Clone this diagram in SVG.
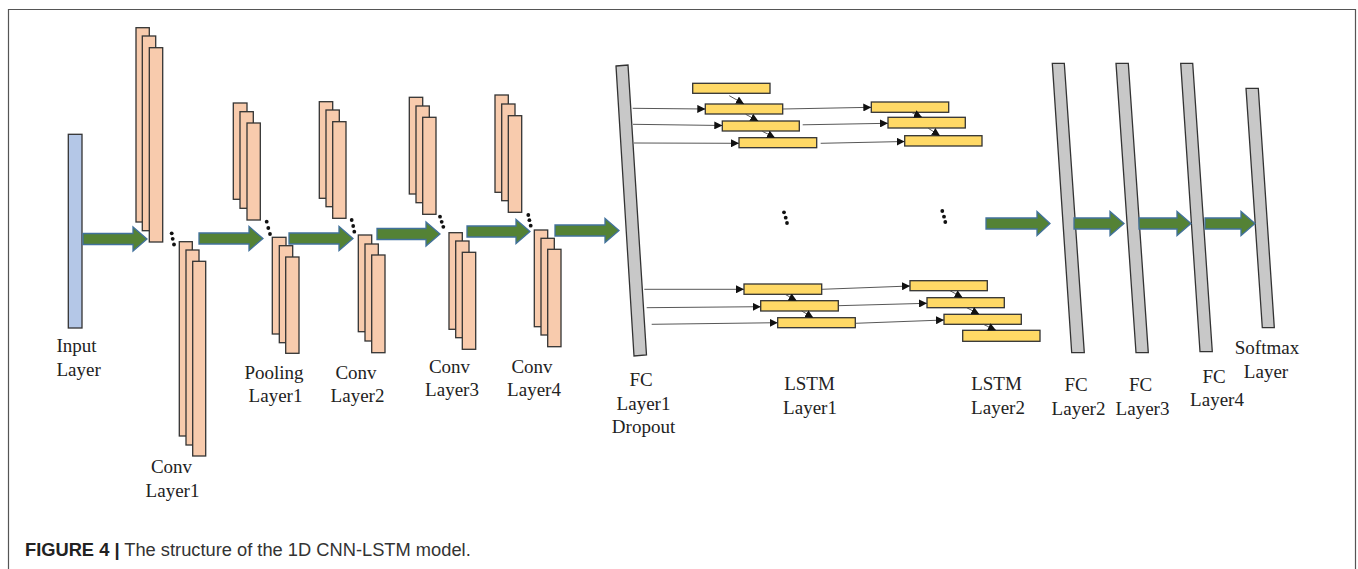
<svg xmlns="http://www.w3.org/2000/svg" width="1358" height="569" viewBox="0 0 1358 569">
<style>
.bg{fill:#ffffff}
.frame{fill:none;stroke:#555;stroke-width:1.2}
.inp{fill:#b4c7e7;stroke:#333;stroke-width:1.3}
.conv{fill:#f8cbad;stroke:#333;stroke-width:1.3}
.fc{fill:#c8c8c8;stroke:#333;stroke-width:1.3}
.lstm{fill:#ffd966;stroke:#333;stroke-width:1.3}
.big{fill:#548235;stroke:#41719c;stroke-width:1.3}
.thin{fill:none;stroke:#444;stroke-width:0.9;marker-end:url(#ah)}
.dot{fill:#111}
.lbl{font-family:"Liberation Serif","Times New Roman",serif;font-size:19px;fill:#222;text-anchor:middle}
.cap{font-family:"Liberation Sans",Arial,sans-serif;font-size:18.3px;fill:#333}
</style>
<defs>
<marker id="ah" markerUnits="userSpaceOnUse" markerWidth="8" markerHeight="8" viewBox="0 0 10 10" refX="10" refY="5" orient="auto">
<path d="M0,0 L10,5 L0,10 z" fill="#111"/>
</marker>
</defs>
<rect class="bg" x="0" y="0" width="1358" height="569"/>
<path class="frame" d="M8.5,569 V9.5 H1355.5 V569"/>

<g id="input-layer">
<rect class="inp" x="68.3" y="134.3" width="13.7" height="193.7"/>
<text class="lbl" style="text-anchor:start" x="56.5" y="352">Input</text>
<text class="lbl" style="text-anchor:start" x="56.5" y="376">Layer</text>
</g>

<g id="conv-layer1">
<rect class="conv" x="136" y="27.7" width="13.3" height="194.3"/>
<rect class="conv" x="142.3" y="36" width="13.4" height="194.7"/>
<rect class="conv" x="149.3" y="47.7" width="13.4" height="194.3"/>
<rect class="conv" x="179.3" y="241.7" width="13" height="194.3"/>
<rect class="conv" x="186" y="250" width="13" height="195"/>
<rect class="conv" x="192.7" y="261.3" width="13" height="194.7"/>
<circle class="dot" cx="171.7" cy="233.3" r="1.9"/>
<circle class="dot" cx="172.7" cy="238.8" r="1.9"/>
<circle class="dot" cx="174" cy="244.5" r="1.9"/>
<text class="lbl" x="171.5" y="473">Conv</text>
<text class="lbl" x="172.5" y="497">Layer1</text>
</g>

<g id="pooling-layer1">
<rect class="conv" x="233.3" y="103" width="13.7" height="96.3"/>
<rect class="conv" x="240" y="111.7" width="13.3" height="96.6"/>
<rect class="conv" x="247" y="123" width="13.3" height="97"/>
<rect class="conv" x="272.3" y="237.3" width="13.7" height="96.7"/>
<rect class="conv" x="279.3" y="245.7" width="13.4" height="97"/>
<rect class="conv" x="285.7" y="257" width="13.3" height="96.3"/>
<circle class="dot" cx="266.7" cy="221.7" r="1.9"/>
<circle class="dot" cx="268.3" cy="228" r="1.9"/>
<circle class="dot" cx="270" cy="234" r="1.9"/>
<text class="lbl" x="274" y="379">Pooling</text>
<text class="lbl" x="275.5" y="402">Layer1</text>
</g>

<g id="conv-layer2">
<rect class="conv" x="319.3" y="101.7" width="13.4" height="96.6"/>
<rect class="conv" x="326" y="110" width="13.3" height="96.7"/>
<rect class="conv" x="332.7" y="121.7" width="13.3" height="96.6"/>
<rect class="conv" x="358.3" y="235" width="13.4" height="96.7"/>
<rect class="conv" x="365" y="244" width="13.3" height="97"/>
<rect class="conv" x="371.7" y="255" width="13.3" height="97.7"/>
<circle class="dot" cx="351.7" cy="220" r="1.9"/>
<circle class="dot" cx="353.2" cy="226" r="1.9"/>
<circle class="dot" cx="354.3" cy="231.7" r="1.9"/>
<text class="lbl" x="356" y="379">Conv</text>
<text class="lbl" x="357.5" y="402">Layer2</text>
</g>

<g id="conv-layer3">
<rect class="conv" x="409.3" y="97.3" width="13.4" height="96.7"/>
<rect class="conv" x="416" y="106" width="13.3" height="96.7"/>
<rect class="conv" x="422.7" y="117.3" width="13.3" height="97"/>
<rect class="conv" x="449" y="232.7" width="13.3" height="96.6"/>
<rect class="conv" x="455.7" y="241" width="13.3" height="96.7"/>
<rect class="conv" x="462.3" y="252.3" width="13.4" height="97"/>
<circle class="dot" cx="440" cy="216.7" r="1.9"/>
<circle class="dot" cx="441.7" cy="221.8" r="1.9"/>
<circle class="dot" cx="443.3" cy="226.8" r="1.9"/>
<text class="lbl" x="449.5" y="373">Conv</text>
<text class="lbl" x="452" y="396">Layer3</text>
</g>

<g id="conv-layer4">
<rect class="conv" x="495" y="95" width="13.3" height="97.3"/>
<rect class="conv" x="501.7" y="104" width="13.3" height="96.7"/>
<rect class="conv" x="508.3" y="115.7" width="13.4" height="96.6"/>
<rect class="conv" x="534.3" y="230" width="13.4" height="96.7"/>
<rect class="conv" x="541" y="238.3" width="13.3" height="96.7"/>
<rect class="conv" x="547.7" y="249.3" width="13.3" height="97.4"/>
<circle class="dot" cx="528.3" cy="215" r="1.9"/>
<circle class="dot" cx="529.4" cy="220.2" r="1.9"/>
<circle class="dot" cx="530.7" cy="225.7" r="1.9"/>
<text class="lbl" x="532" y="373">Conv</text>
<text class="lbl" x="534" y="396">Layer4</text>
</g>

<g id="fc-layer1">
<polygon class="fc" points="616,66 628,65 646.5,355 634,356"/>
<text class="lbl" x="641" y="386">FC</text>
<text class="lbl" x="643.5" y="410">Layer1</text>
<text class="lbl" x="643.5" y="433">Dropout</text>
</g>

<g id="lstm-layer1">
<rect class="lstm" x="692.7" y="83.3" width="77.3" height="10"/>
<rect class="lstm" x="705.3" y="104" width="77.4" height="10"/>
<rect class="lstm" x="722.3" y="121" width="77" height="10"/>
<rect class="lstm" x="739" y="137.7" width="77.7" height="10"/>
<rect class="lstm" x="744" y="284" width="77.7" height="10.3"/>
<rect class="lstm" x="760.7" y="300.7" width="77.6" height="10.3"/>
<rect class="lstm" x="777.7" y="317.7" width="77.6" height="10"/>
<circle class="dot" cx="784" cy="212.3" r="1.9"/>
<circle class="dot" cx="785.7" cy="217.7" r="1.9"/>
<circle class="dot" cx="787" cy="223" r="1.9"/>
<text class="lbl" x="809.5" y="390">LSTM</text>
<text class="lbl" x="810" y="414">Layer1</text>
</g>

<g id="lstm-layer2">
<rect class="lstm" x="871.3" y="102" width="77.4" height="10.3"/>
<rect class="lstm" x="888" y="117.3" width="77.3" height="10.7"/>
<rect class="lstm" x="904.7" y="135.7" width="77.3" height="10.3"/>
<rect class="lstm" x="910" y="280.7" width="77.3" height="10"/>
<rect class="lstm" x="927" y="297.7" width="77.3" height="10"/>
<rect class="lstm" x="944" y="314.3" width="77.3" height="10"/>
<rect class="lstm" x="962.7" y="330.3" width="77.3" height="11"/>
<circle class="dot" cx="942.3" cy="211" r="1.9"/>
<circle class="dot" cx="944" cy="216.7" r="1.9"/>
<circle class="dot" cx="945.3" cy="222" r="1.9"/>
<text class="lbl" x="996.5" y="390">LSTM</text>
<text class="lbl" x="998" y="414">Layer2</text>
</g>

<g id="fc-layer2">
<polygon class="fc" points="1052.3,63.3 1064.3,63.3 1084.3,352.7 1071.7,352.7"/>
<text class="lbl" x="1076" y="391">FC</text>
<text class="lbl" x="1078.5" y="415">Layer2</text>
</g>

<g id="fc-layer3">
<polygon class="fc" points="1116,63.3 1128.3,63.3 1148.3,352.7 1136,352.7"/>
<text class="lbl" x="1140.5" y="391">FC</text>
<text class="lbl" x="1142.5" y="415">Layer3</text>
</g>

<g id="fc-layer4">
<polygon class="fc" points="1180.7,63.3 1192.7,63.3 1212.3,351.7 1200,351.7"/>
<text class="lbl" x="1214" y="383">FC</text>
<text class="lbl" x="1217" y="406">Layer4</text>
</g>

<g id="softmax-layer">
<polygon class="fc" points="1246,88.3 1258.3,88.3 1274.3,327.7 1262.3,327.7"/>
<text class="lbl" x="1267" y="354">Softmax</text>
<text class="lbl" x="1266" y="378">Layer</text>
</g>

<g id="connectors">
<polygon class="big" points="83,233.5 133,233.5 133,227 147,239 133,251 133,244.5 83,244.5"/>
<polygon class="big" points="199,233 249,233 249,226.5 263,238.5 249,250.5 249,244 199,244"/>
<polygon class="big" points="289,233 339,233 339,226.5 353,238.5 339,250.5 339,244 289,244"/>
<polygon class="big" points="377,228.5 426,228.5 426,222 440,234 426,246 426,239.5 377,239.5"/>
<polygon class="big" points="467,226 516,226 516,219.5 530,231.5 516,243.5 516,237 467,237"/>
<polygon class="big" points="555,225 605,225 605,218.5 619,230.5 605,242.5 605,236 555,236"/>
<polygon class="big" points="986,218 1037,218 1037,211.5 1050,223.5 1037,235.5 1037,229 986,229"/>
<polygon class="big" points="1074,218 1110,218 1110,211.5 1124,223.5 1110,235.5 1110,229 1074,229"/>
<polygon class="big" points="1139,218 1177,218 1177,211.5 1191,223.5 1177,235.5 1177,229 1139,229"/>
<polygon class="big" points="1205,218 1241,218 1241,211.5 1255,223.5 1241,235.5 1241,229 1205,229"/>

<line class="thin" x1="632.7" y1="108.3" x2="705.3" y2="109"/>
<line class="thin" x1="633" y1="124.3" x2="722.3" y2="125.5"/>
<line class="thin" x1="634" y1="143" x2="739" y2="143.3"/>
<line class="thin" x1="782.7" y1="109" x2="871.3" y2="107.3"/>
<line class="thin" x1="802.7" y1="124.8" x2="888" y2="123.3"/>
<line class="thin" x1="820.7" y1="143.3" x2="904.7" y2="141.5"/>
<line class="thin" x1="729.3" y1="95.7" x2="744" y2="104"/>
<line class="thin" x1="745.7" y1="114.3" x2="758.3" y2="121"/>
<line class="thin" x1="762.3" y1="131.3" x2="775" y2="137.7"/>
<line class="thin" x1="911.7" y1="112.5" x2="922" y2="117.3"/>
<line class="thin" x1="928.3" y1="128.3" x2="940" y2="135.7"/>

<line class="thin" x1="644.3" y1="289.3" x2="744" y2="289.3"/>
<line class="thin" x1="646.7" y1="307.7" x2="760.7" y2="306.7"/>
<line class="thin" x1="651.7" y1="324.3" x2="777.7" y2="322.7"/>
<line class="thin" x1="821.7" y1="289.3" x2="910" y2="286"/>
<line class="thin" x1="838.3" y1="305.7" x2="927" y2="303.3"/>
<line class="thin" x1="855.3" y1="323.3" x2="944" y2="320"/>
<line class="thin" x1="785" y1="294.3" x2="796.7" y2="300.7"/>
<line class="thin" x1="801.7" y1="311" x2="813.3" y2="317.7"/>
<line class="thin" x1="950" y1="290.7" x2="962.7" y2="297.7"/>
<line class="thin" x1="966.7" y1="307.7" x2="979.3" y2="314.3"/>
<line class="thin" x1="983.3" y1="324.3" x2="996" y2="330.3"/>
</g>

<text class="cap" x="25" y="556"><tspan font-weight="bold" fill="#222">FIGURE 4 |</tspan> The structure of the 1D CNN-LSTM model.</text>
</svg>
